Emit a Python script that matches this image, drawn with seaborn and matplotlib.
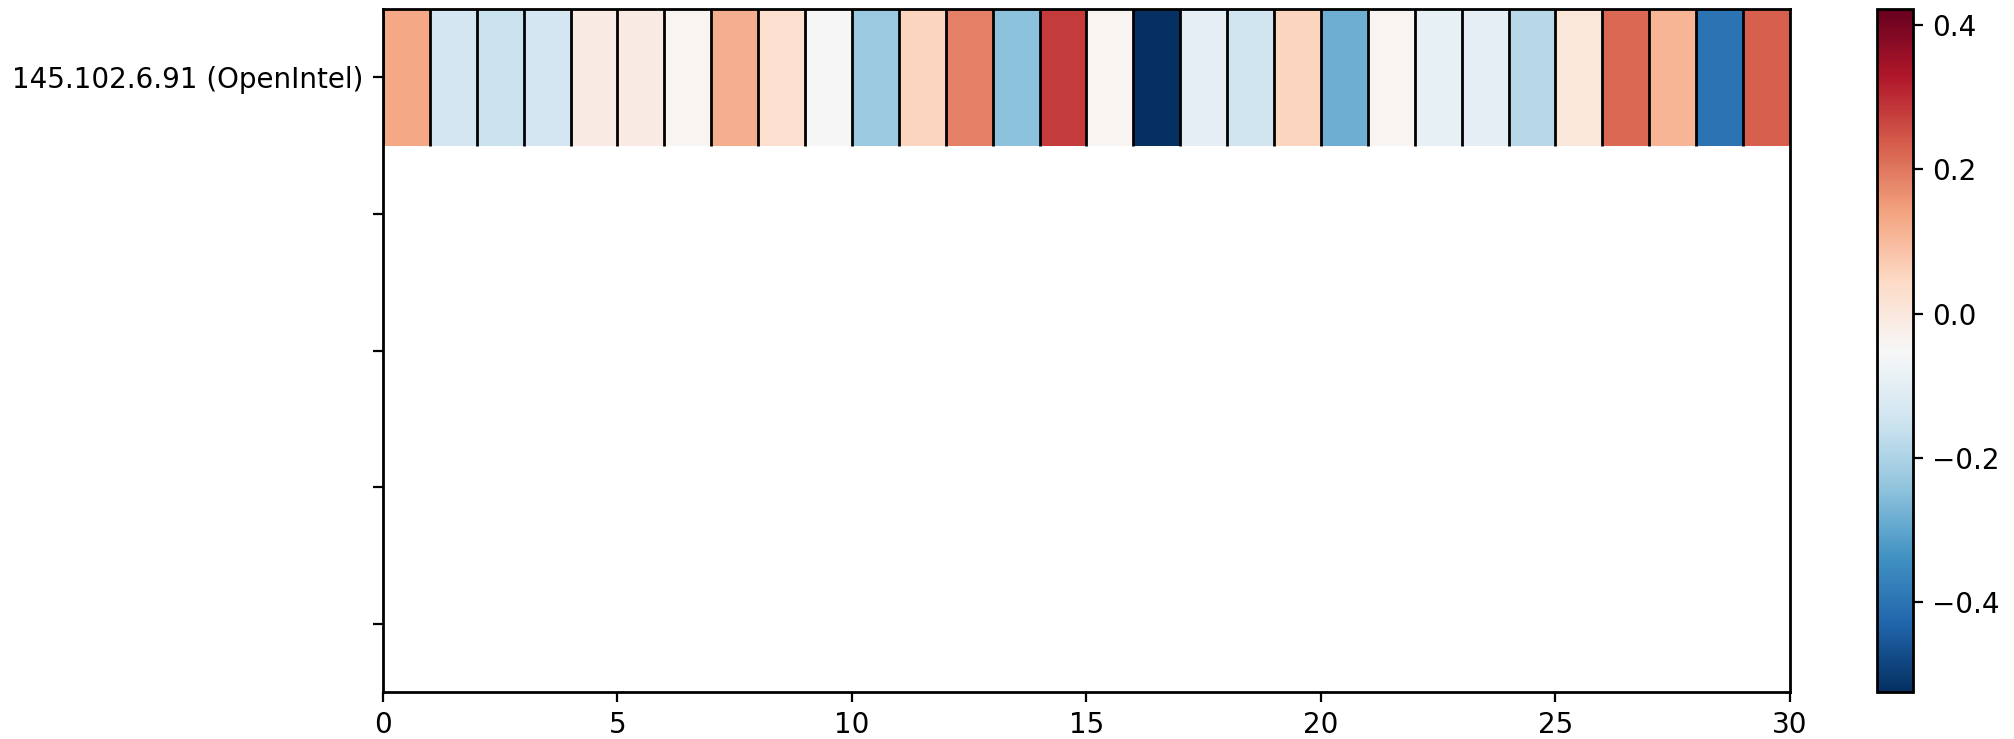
import numpy as np
import matplotlib
matplotlib.use("Agg")
import matplotlib.pyplot as plt
import seaborn as sns

# Per-window correlation for one resolver (30 windows)
row_labels = ["145.102.6.91 (OpenIntel)", "", "", "", ""]
values = [
    0.133, -0.136, -0.155, -0.136, -0.013, -0.013, -0.042, 0.119, 0.029, -0.051,
    -0.226, 0.053, 0.186, -0.245, 0.280, -0.042, -0.524, -0.098, -0.146, 0.053,
    -0.283, -0.042, -0.089, -0.098, -0.183, 0.006, 0.219, 0.110, -0.401, 0.233,
]
color_min = -0.524
color_max = 0.422
x_ticks = [0, 5, 10, 15, 20, 25, 30]
cbar_ticks = [-0.4, -0.2, 0.0, 0.2, 0.4]

n_rows = len(row_labels)
n_cols = len(values)
grid = np.array([values])

W, H, DPI = 2015, 739, 200
fig = plt.figure(figsize=(W / DPI, H / DPI), dpi=DPI)
plt.rcParams["font.family"] = ["DejaVu Sans"]

ax = fig.add_axes([383 / W, 1 - 692 / H, (1790 - 383) / W, (692 - 9) / H])
cax = fig.add_axes([1877 / W, 1 - 692 / H, (1913 - 1877) / W, (692 - 9) / H])

sns.heatmap(
    grid, ax=ax, cbar_ax=cax, cmap="RdBu_r",
    vmin=color_min, vmax=color_max,
    linewidths=0,
    xticklabels=False, yticklabels=False,
)

# separators between the windows of the filled row
ax.vlines(np.arange(n_cols + 1), 0, grid.shape[0], colors="black", linewidth=1.0)

# leave room for the remaining (empty) resolver rows
ax.set_ylim(n_rows, 0)

for side in ["top", "bottom", "left", "right"]:
    ax.spines[side].set_visible(True)
    ax.spines[side].set_color("black")
    ax.spines[side].set_linewidth(1.0)

ax.set_xticks(x_ticks)
ax.set_xticklabels([str(t) for t in x_ticks], fontsize=10)
ax.set_yticks(np.arange(n_rows) + 0.5)
ax.set_yticklabels(row_labels, rotation=0, fontsize=10)
ax.tick_params(axis="both", length=3.5, width=0.8, color="black")

cbar = ax.collections[0].colorbar
cbar.set_ticks(cbar_ticks)
cbar.set_ticklabels([f"{t:.1f}".replace("-", "\u2212") for t in cbar_ticks])
cbar.ax.tick_params(labelsize=10, length=3.5, width=0.8)
cbar.outline.set_visible(True)
cbar.outline.set_edgecolor("black")
cbar.outline.set_linewidth(1.0)

fig.savefig("out.png", dpi=DPI)
